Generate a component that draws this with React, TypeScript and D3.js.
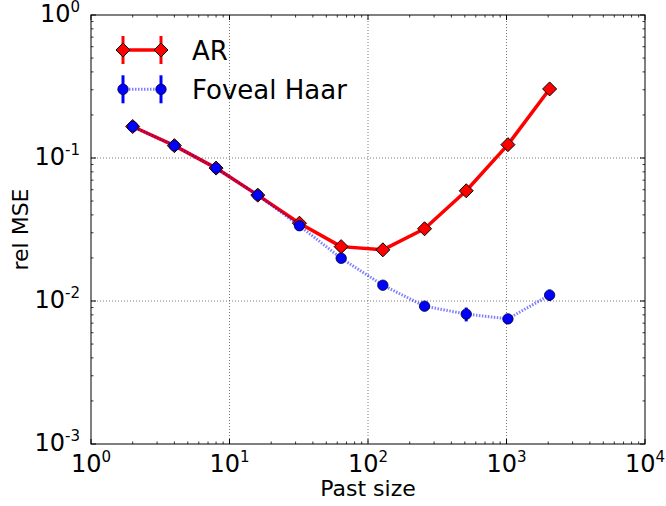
import React from "react";
import * as d3 from "d3";

// Past sizes (powers of two) and relative MSE for each predictor
const pastSizes = [2, 4, 8, 16, 32, 64, 128, 256, 512, 1024, 2048];
const arMse = [0.166, 0.122, 0.085, 0.055, 0.035, 0.024, 0.0228, 0.032, 0.059, 0.124, 0.304];
const arErr = [0.004, 0.003, 0.002, 0.0013, 0.0008, 0.0006, 0.0006, 0.0008, 0.0015, 0.003, 0.008];
const haarMse = [0.166, 0.122, 0.085, 0.055, 0.0336, 0.0199, 0.0129, 0.0092, 0.0081, 0.0075, 0.011];
const haarErr = [0.004, 0.003, 0.002, 0.0013, 0.0008, 0.0005, 0.0004, 0.0004, 0.0009, 0.0006, 0.001];

const xTickExps = [0, 1, 2, 3, 4];
const yTickExps = [0, -1, -2, -3];
const seriesNames = ["AR", "Foveal Haar"];

const W = 666;
const H = 506;
const M = { left: 91, right: 645, top: 15, bottom: 444 };
const FONT = "'DejaVu Sans', sans-serif";

export default function App() {
  const x = d3.scaleLog().domain([1, 1e4]).range([M.left, M.right]);
  const y = d3.scaleLog().domain([1e-3, 1]).range([M.bottom, M.top]);

  const line = d3
    .line<[number, number]>()
    .x((d) => x(d[0]))
    .y((d) => y(d[1]));

  const arPts = pastSizes.map((s, i) => [s, arMse[i]] as [number, number]);
  const haarPts = pastSizes.map((s, i) => [s, haarMse[i]] as [number, number]);

  // minor ticks 2..9 within each decade
  const xMinor: number[] = [];
  for (let e = 0; e < 4; e++) for (let k = 2; k <= 9; k++) xMinor.push(k * Math.pow(10, e));
  const yMinor: number[] = [];
  for (let e = -3; e < 0; e++) for (let k = 2; k <= 9; k++) yMinor.push(k * Math.pow(10, e));

  const majorLen = 5;
  const minorLen = 2.5;

  const diamond = (cx: number, cy: number, r: number) =>
    `M${cx},${cy - r}L${cx + r},${cy}L${cx},${cy + r}L${cx - r},${cy}Z`;

  const red = "#ff0000";
  const blue = "#0000ff";

  return (
    <svg width={W} height={H} style={{ position: "absolute", left: 0, top: 0, background: "#fff" }}>
      <rect x={0} y={0} width={W} height={H} fill="#fff" />
      {/* grid */}
      {xTickExps.slice(1, -1).map((e) => (
        <line key={"gx" + e} x1={x(Math.pow(10, e))} x2={x(Math.pow(10, e))} y1={M.top} y2={M.bottom}
          stroke="#555" strokeWidth={0.8} strokeDasharray="1,2" />
      ))}
      {yTickExps.slice(1, -1).map((e) => (
        <line key={"gy" + e} y1={y(Math.pow(10, e))} y2={y(Math.pow(10, e))} x1={M.left} x2={M.right}
          stroke="#555" strokeWidth={0.8} strokeDasharray="1,2" />
      ))}

      {/* ticks on all four sides, pointing inward */}
      {xTickExps.map((e) => {
        const px = x(Math.pow(10, e));
        return (
          <g key={"xt" + e}>
            <line x1={px} x2={px} y1={M.bottom} y2={M.bottom - majorLen} stroke="#000" />
            <line x1={px} x2={px} y1={M.top} y2={M.top + majorLen} stroke="#000" />
          </g>
        );
      })}
      {xMinor.map((v) => {
        const px = x(v);
        return (
          <g key={"xm" + v}>
            <line x1={px} x2={px} y1={M.bottom} y2={M.bottom - minorLen} stroke="#000" strokeWidth={0.8} />
            <line x1={px} x2={px} y1={M.top} y2={M.top + minorLen} stroke="#000" strokeWidth={0.8} />
          </g>
        );
      })}
      {yTickExps.map((e) => {
        const py = y(Math.pow(10, e));
        return (
          <g key={"yt" + e}>
            <line x1={M.left} x2={M.left + majorLen} y1={py} y2={py} stroke="#000" />
            <line x1={M.right} x2={M.right - majorLen} y1={py} y2={py} stroke="#000" />
          </g>
        );
      })}
      {yMinor.map((v) => {
        const py = y(v);
        return (
          <g key={"ym" + v}>
            <line x1={M.left} x2={M.left + minorLen} y1={py} y2={py} stroke="#000" strokeWidth={0.8} />
            <line x1={M.right} x2={M.right - minorLen} y1={py} y2={py} stroke="#000" strokeWidth={0.8} />
          </g>
        );
      })}

      {/* AR series */}
      <g>
        {pastSizes.map((s, i) => (
          <line key={"are" + i} x1={x(s)} x2={x(s)} y1={y(arMse[i] + arErr[i])} y2={y(arMse[i] - arErr[i])}
            stroke={red} strokeWidth={3} />
        ))}
        <path d={line(arPts) || ""} fill="none" stroke={red} strokeWidth={3.5} strokeLinejoin="round" />
        {arPts.map((d, i) => (
          <path key={"arm" + i} d={diamond(x(d[0]), y(d[1]), 7)} fill={red} stroke="#000" strokeWidth={1} />
        ))}
      </g>

      {/* Foveal Haar series */}
      <g>
        {pastSizes.map((s, i) => (
          <line key={"hae" + i} x1={x(s)} x2={x(s)} y1={y(haarMse[i] + haarErr[i])} y2={y(haarMse[i] - haarErr[i])}
            stroke={blue} strokeWidth={3} />
        ))}
        <path d={line(haarPts) || ""} fill="none" stroke={blue} strokeOpacity={0.5} strokeWidth={3}
          strokeDasharray="1.5,1.5" />
        {haarPts.map((d, i) => (
          <circle key={"ham" + i} cx={x(d[0])} cy={y(d[1])} r={5.2} fill={blue} stroke="#000030" strokeWidth={0.8} />
        ))}
      </g>

      {/* frame */}
      <rect x={M.left} y={M.top} width={M.right - M.left} height={M.bottom - M.top} fill="none" stroke="#000" strokeWidth={1} />

      {/* x tick labels */}
      {xTickExps.map((e) => (
        <text key={"xl" + e} x={x(Math.pow(10, e))} y={471.5} textAnchor="middle" fontFamily={FONT} fontSize={24} fill="#000">
          10<tspan fontSize={15} dy={-10}>{e}</tspan>
        </text>
      ))}
      {/* y tick labels */}
      {yTickExps.map((e) => (
        <text key={"yl" + e} x={80} y={y(Math.pow(10, e)) + 7} textAnchor="end" fontFamily={FONT} fontSize={24} fill="#000">
          10<tspan fontSize={15} dy={-10}>{e === 0 ? "0" : "-" + Math.abs(e)}</tspan>
        </text>
      ))}

      {/* axis labels */}
      <text x={(M.left + M.right) / 2} y={496} textAnchor="middle" fontFamily={FONT} fontSize={22} fill="#000">
        Past size
      </text>
      <text transform={`translate(28,${(M.top + M.bottom) / 2}) rotate(-90)`} textAnchor="middle" fontFamily={FONT} fontSize={22} fill="#000">
        rel MSE
      </text>

      {/* legend */}
      <g>
        {[0, 1].map((k) => {
          const ly = k === 0 ? 50 : 89.3;
          const xs = [123, 161];
          const col = k === 0 ? red : blue;
          return (
            <g key={"lg" + k}>
              {xs.map((lx) => (
                <line key={"lge" + lx} x1={lx} x2={lx} y1={ly - 14} y2={ly + 14} stroke={col} strokeWidth={3} />
              ))}
              {k === 0 ? (
                <line x1={xs[0]} x2={xs[1]} y1={ly} y2={ly} stroke={red} strokeWidth={3.5} />
              ) : (
                <line x1={xs[0]} x2={xs[1]} y1={ly} y2={ly} stroke={blue} strokeOpacity={0.5} strokeWidth={3} strokeDasharray="1.5,1.5" />
              )}
              {xs.map((lx) =>
                k === 0 ? (
                  <path key={"lgm" + lx} d={diamond(lx, ly, 7)} fill={red} stroke="#000" strokeWidth={1} />
                ) : (
                  <circle key={"lgm" + lx} cx={lx} cy={ly} r={5.2} fill={blue} stroke="#000030" strokeWidth={0.8} />
                )
              )}
              <text x={192} y={ly + 10} fontFamily={FONT} fontSize={26} fill="#000">
                {seriesNames[k]}
              </text>
            </g>
          );
        })}
      </g>
    </svg>
  );
}
